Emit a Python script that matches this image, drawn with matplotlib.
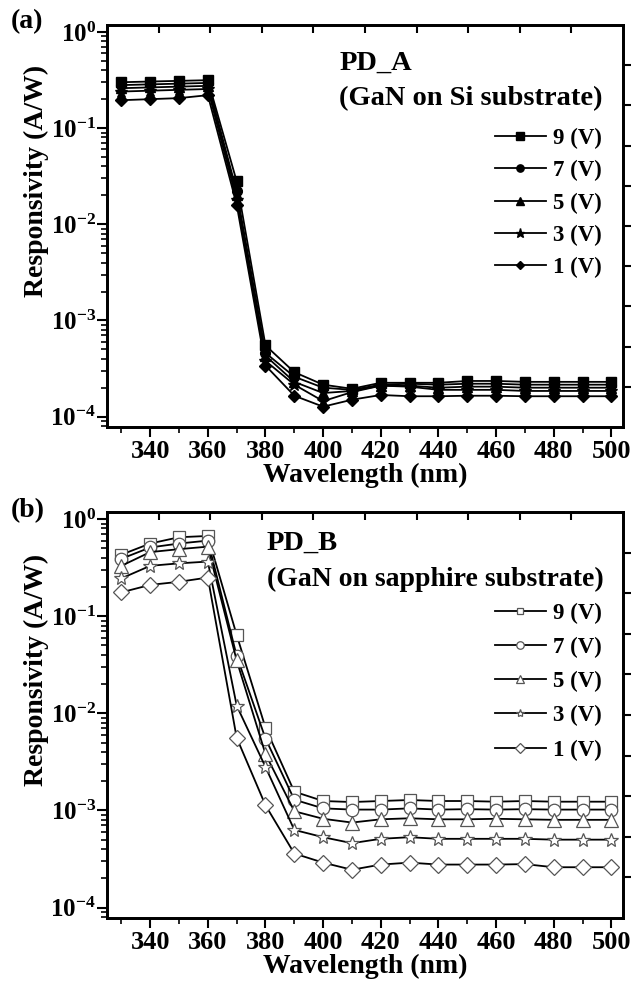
import numpy as np
import matplotlib
matplotlib.use('Agg')
import matplotlib.pyplot as plt
from matplotlib.ticker import FixedLocator, NullFormatter

plt.rcParams['font.family'] = ['Liberation Serif', 'DejaVu Serif']
plt.rcParams['font.weight'] = 'bold'
plt.rcParams['mathtext.fontset'] = 'custom'
plt.rcParams['mathtext.rm'] = 'Liberation Serif:bold'
plt.rcParams['mathtext.bf'] = 'Liberation Serif:bold'
plt.rcParams['mathtext.it'] = 'Liberation Serif:bold:italic'
plt.rcParams['mathtext.default'] = 'rm'

# ---------------- data ----------------
wavelength = [330, 340, 350, 360, 370, 380, 390, 400, 410, 420,
              430, 440, 450, 460, 470, 480, 490, 500]
voltage_labels = ['9 (V)', '7 (V)', '5 (V)', '3 (V)', '1 (V)']

pda_9v = [0.30, 0.305, 0.31, 0.315, 0.028, 5.5e-4, 2.9e-4, 2.15e-4, 1.95e-4, 2.25e-4,
          2.25e-4, 2.25e-4, 2.35e-4, 2.35e-4, 2.3e-4, 2.3e-4, 2.3e-4, 2.3e-4]
pda_7v = [0.28, 0.285, 0.29, 0.295, 0.022, 4.6e-4, 2.6e-4, 2.0e-4, 1.9e-4, 2.15e-4,
          2.2e-4, 2.15e-4, 2.2e-4, 2.2e-4, 2.15e-4, 2.15e-4, 2.15e-4, 2.15e-4]
pda_5v = [0.26, 0.265, 0.27, 0.275, 0.020, 4.3e-4, 2.3e-4, 1.76e-4, 1.85e-4, 2.1e-4,
          2.1e-4, 2.0e-4, 2.05e-4, 2.05e-4, 2.0e-4, 2.0e-4, 2.0e-4, 2.0e-4]
pda_3v = [0.24, 0.245, 0.25, 0.255, 0.018, 3.8e-4, 2.15e-4, 1.45e-4, 1.8e-4, 2.1e-4,
          2.05e-4, 1.9e-4, 1.9e-4, 1.9e-4, 1.85e-4, 1.85e-4, 1.85e-4, 1.85e-4]
pda_1v = [0.195, 0.20, 0.205, 0.22, 0.016, 3.4e-4, 1.65e-4, 1.27e-4, 1.5e-4, 1.68e-4,
          1.63e-4, 1.63e-4, 1.65e-4, 1.65e-4, 1.63e-4, 1.63e-4, 1.63e-4, 1.63e-4]

pdb_9v = [0.43, 0.56, 0.65, 0.67, 0.064, 7.1e-3, 1.56e-3, 1.25e-3, 1.22e-3, 1.25e-3,
          1.28e-3, 1.25e-3, 1.25e-3, 1.23e-3, 1.25e-3, 1.23e-3, 1.23e-3, 1.23e-3]
pdb_7v = [0.39, 0.51, 0.56, 0.60, 0.039, 5.5e-3, 1.29e-3, 1.05e-3, 1.02e-3, 1.02e-3,
          1.05e-3, 1.02e-3, 1.03e-3, 1.02e-3, 1.03e-3, 1.02e-3, 1.02e-3, 1.02e-3]
pdb_5v = [0.33, 0.457, 0.49, 0.52, 0.035, 3.8e-3, 0.98e-3, 8.2e-4, 7.5e-4, 8.1e-4,
          8.3e-4, 8.1e-4, 8.1e-4, 8.2e-4, 8.1e-4, 8.0e-4, 8.0e-4, 8.0e-4]
pdb_3v = [0.245, 0.33, 0.35, 0.365, 0.012, 2.8e-3, 6.3e-4, 5.3e-4, 4.6e-4, 5.1e-4,
          5.3e-4, 5.1e-4, 5.1e-4, 5.1e-4, 5.1e-4, 5.0e-4, 5.0e-4, 5.0e-4]
pdb_1v = [0.176, 0.21, 0.226, 0.25, 0.0056, 1.13e-3, 3.6e-4, 2.9e-4, 2.45e-4, 2.77e-4,
          2.9e-4, 2.77e-4, 2.77e-4, 2.77e-4, 2.8e-4, 2.6e-4, 2.6e-4, 2.6e-4]

x_ticks = [340, 360, 380, 400, 420, 440, 460, 480, 500]
y_ticks = [1e-4, 1e-3, 1e-2, 1e-1, 1e0]
y_ticklabels = [r'$10^{-4}$', r'$10^{-3}$', r'$10^{-2}$', r'$10^{-1}$', r'$10^{0}$']

markers = ['s', 'o', '^', '*', 'D']

# ---------------- figure ----------------
fig = plt.figure(figsize=(6.33, 9.81), dpi=100)
ax_a = fig.add_axes([0.169, 0.5647, 0.815, 0.4098])
ax_b = fig.add_axes([0.169, 0.0642, 0.815, 0.4138])


def style_axes(ax, label_y):
    ax.set_yscale('log')
    ax.set_xlim(325, 504)
    ax.set_ylim(7.8e-5, 1.18)
    ax.xaxis.set_major_locator(FixedLocator(x_ticks))
    ax.xaxis.set_minor_locator(FixedLocator(list(range(330, 501, 10))))
    ax.set_yticks(y_ticks)
    ax.set_yticklabels(y_ticklabels)
    ax.yaxis.set_minor_formatter(NullFormatter())
    ax.tick_params(axis='both', which='major', direction='out', length=7, width=1.5)
    ax.tick_params(axis='x', which='major', pad=2, labelsize=19)
    ax.tick_params(axis='y', which='major', pad=1, labelsize=18)
    ax.tick_params(axis='both', which='minor', direction='out', length=4, width=1.2)
    for s in ax.spines.values():
        s.set_linewidth(1.8)
    ax.set_xlabel('Wavelength (nm)', fontsize=20, fontweight='bold', labelpad=0)
    ax.set_ylabel('Responsivity (A/W)', fontsize=20, fontweight='bold')
    ax.yaxis.set_label_coords(-0.112, label_y)
    # decorative right / top ticks (Origin style)
    axr = ax.twinx()
    axr.set_ylim(0, 1)
    axr.set_yticks(np.arange(0.1, 0.95, 0.1))
    axr.tick_params(axis='y', direction='out', length=6, width=1.5, labelright=False)
    axt = ax.twiny()
    axt.set_xlim(0, 1)
    axt.set_xticks(np.arange(0.1, 0.95, 0.1))
    axt.tick_params(axis='x', direction='in', length=6, width=1.5, labeltop=False)
    for a in (axr, axt):
        for s in a.spines.values():
            s.set_linewidth(1.8)


# Panel (a)
series_a = [pda_9v, pda_7v, pda_5v, pda_3v, pda_1v]
sizes_a = [7, 7, 7, 9, 6]
for vals, m, ms, lab in zip(series_a, markers, sizes_a, voltage_labels):
    ax_a.plot(wavelength, vals, color='black', lw=1.3, marker=m, ms=ms,
              mfc='black', mec='black', label=lab)
style_axes(ax_a, 0.612)
ax_a.text(0.45, 0.905, 'PD_A', transform=ax_a.transAxes, fontsize=20.5,
          fontweight='bold', va='center', ha='left')
ax_a.text(0.45, 0.816, '(GaN on Si substrate)', transform=ax_a.transAxes, fontsize=20.5,
          fontweight='bold', va='center', ha='left')
ax_a.legend(loc='upper right', bbox_to_anchor=(0.985, 0.779), frameon=False,
            prop={'weight': 'bold', 'size': 16.5}, handlelength=2.2, handletextpad=0.3,
            labelspacing=0.49, markerscale=0.75, borderpad=0.1)

# Panel (b)
series_b = [pdb_9v, pdb_7v, pdb_5v, pdb_3v, pdb_1v]
sizes_b = [8, 9, 10, 10, 8]
for vals, m, ms, lab in zip(series_b, markers, sizes_b, voltage_labels):
    ax_b.plot(wavelength, vals, color='black', lw=1.3, marker=m, ms=ms,
              mfc='white', mec='#555555', mew=0.9, label=lab)
style_axes(ax_b, 0.611)
ax_b.text(0.31, 0.924, 'PD_B', transform=ax_b.transAxes, fontsize=20.5,
          fontweight='bold', va='center', ha='left')
ax_b.text(0.31, 0.835, '(GaN on sapphire substrate)', transform=ax_b.transAxes,
          fontsize=20, fontweight='bold', va='center', ha='left')
ax_b.legend(loc='upper right', bbox_to_anchor=(0.985, 0.811), frameon=False,
            prop={'weight': 'bold', 'size': 16.5}, handlelength=2.2, handletextpad=0.3,
            labelspacing=0.57, markerscale=0.6, borderpad=0.1)

fig.text(0.017, 0.978, '(a)', fontsize=20, fontweight='bold', va='center', ha='left')
fig.text(0.017, 0.479, '(b)', fontsize=20, fontweight='bold', va='center', ha='left')

fig.savefig('out.png', dpi=100)
